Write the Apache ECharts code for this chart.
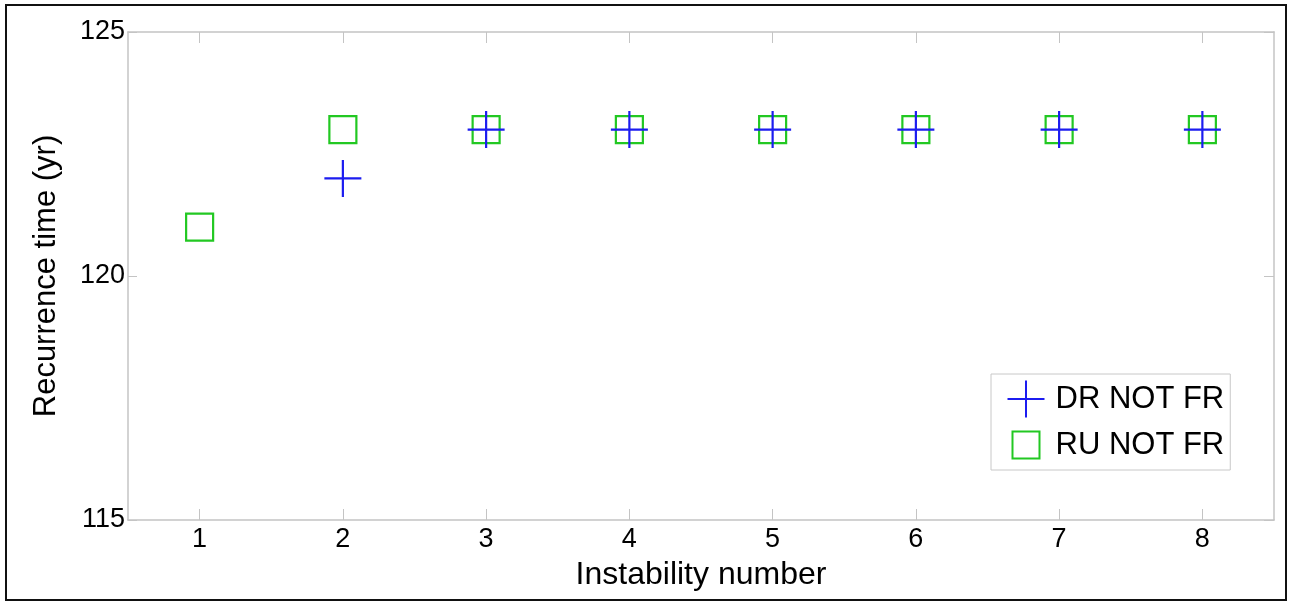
<!DOCTYPE html>
<html>
<head>
<meta charset="utf-8">
<script src="https://cdn.jsdelivr.net/npm/echarts@6/dist/echarts.min.js"></script>
<style>
    html, body { margin: 0; padding: 0; background: #fff; }
    #chart { width: 1297px; height: 604px; }
</style>
</head>
<body>
<div id="chart"></div>
<script>
var instability = [1, 2, 3, 4, 5, 6, 7, 8];
var drNotFr = [null, 122, 123, 123, 123, 123, 123, 123];
var ruNotFr = [121, 123, 123, 123, 123, 123, 123, 123];
var yTicks = [115, 120, 125];

function pairs(ys) {
    var out = [];
    ys.forEach(function (y, i) {
        if (y !== null) out.push([instability[i], y]);
    });
    return out;
}

var font = 'Liberation Sans, Arial, sans-serif';
var axisGray = '#c4c4c4';
var blue = '#1c1cf0';
var green = '#22c822';
var plusPath = 'path://M0,-10L0,10M-10,0L10,0';
// square with empty margin so the legend icon stays smaller than the plus
var legendSquare = 'path://M-13.7,-13.7M13.7,13.7M-10,-10L10,-10L10,10L-10,10Z';

var myChart = echarts.init(document.getElementById('chart'));
myChart.setOption({
    backgroundColor: '#fff',
    animation: false,
    textStyle: {fontFamily: font},
    graphic: [{
        type: 'rect',
        shape: {x: 6, y: 5, width: 1280, height: 595},
        style: {fill: 'none', stroke: '#111', lineWidth: 2},
        silent: true
    }],
    grid: {left: 128, top: 32, right: 23, bottom: 84, containLabel: false},
    legend: {
        orient: 'vertical',
        left: 991,
        top: 374,
        padding: [4, 6, 4, 14],
        itemGap: 4,
        itemWidth: 37,
        itemHeight: 37,
        backgroundColor: '#fff',
        borderColor: '#c8c8c8',
        borderWidth: 1,
        borderRadius: 0,
        textStyle: {fontFamily: font, fontSize: 31, color: '#000', padding: [0, 0, 0, 6]},
        data: [
            {name: 'DR NOT FR', icon: plusPath, itemStyle: {color: 'none', borderColor: blue, borderWidth: 2}},
            {name: 'RU NOT FR', icon: legendSquare, itemStyle: {color: 'none', borderColor: green, borderWidth: 2}}
        ]
    },
    xAxis: [{
        type: 'value',
        min: 0.5,
        max: 8.5,
        name: 'Instability number',
        nameLocation: 'middle',
        nameGap: 39,
        nameTextStyle: {fontFamily: font, fontSize: 32, color: '#000'},
        axisLine: {show: true, lineStyle: {color: axisGray, width: 1.5}},
        axisTick: {show: true, inside: true, length: 11, customValues: instability, lineStyle: {color: axisGray}},
        axisLabel: {fontFamily: font, fontSize: 27, color: '#000', margin: 6, customValues: instability},
        splitLine: {show: false}
    }, {
        type: 'value',
        position: 'top',
        min: 0.5,
        max: 8.5,
        axisLine: {show: true, lineStyle: {color: axisGray, width: 1.5}},
        axisTick: {show: true, inside: true, length: 11, customValues: instability, lineStyle: {color: axisGray}},
        axisLabel: {show: false},
        splitLine: {show: false}
    }],
    yAxis: [{
        type: 'value',
        min: 115,
        max: 125,
        interval: 5,
        name: 'Recurrence time (yr)',
        nameLocation: 'middle',
        nameGap: 66,
        nameTextStyle: {fontFamily: font, fontSize: 31, color: '#000'},
        axisLine: {show: true, lineStyle: {color: axisGray, width: 1.5}},
        axisTick: {show: true, inside: true, length: 9, customValues: yTicks, lineStyle: {color: axisGray}},
        axisLabel: {fontFamily: font, fontSize: 27, color: '#000', margin: 3, customValues: yTicks},
        splitLine: {show: false}
    }, {
        type: 'value',
        position: 'right',
        min: 115,
        max: 125,
        interval: 5,
        axisLine: {show: true, lineStyle: {color: axisGray, width: 1.5}},
        axisTick: {show: true, inside: true, length: 10, customValues: yTicks, lineStyle: {color: axisGray}},
        axisLabel: {show: false},
        splitLine: {show: false}
    }],
    series: [{
        name: 'RU NOT FR',
        type: 'scatter',
        z: 2,
        symbol: 'rect',
        symbolSize: 27,
        itemStyle: {color: 'rgba(0,0,0,0)', borderColor: green, borderWidth: 2.2, opacity: 1},
        data: pairs(ruNotFr)
    }, {
        name: 'DR NOT FR',
        type: 'scatter',
        z: 3,
        symbol: plusPath,
        symbolSize: 37,
        itemStyle: {color: 'none', borderColor: blue, borderWidth: 2.2, opacity: 1},
        data: pairs(drNotFr)
    }]
});
</script>
</body>
</html>
